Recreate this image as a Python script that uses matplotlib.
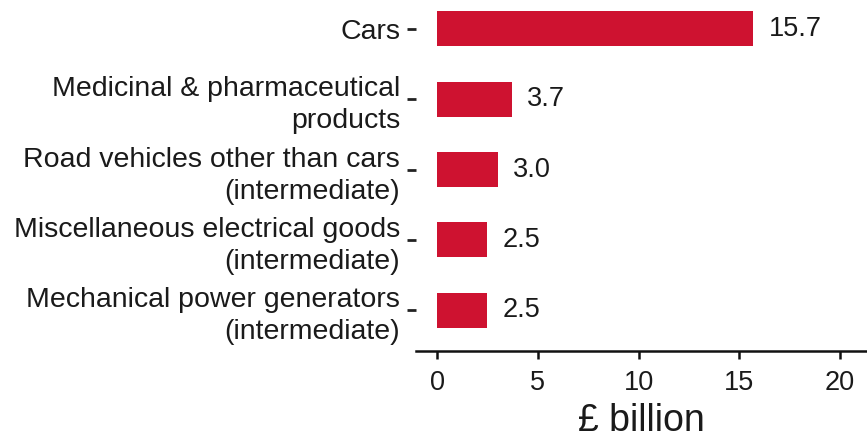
import numpy as np
import matplotlib.pyplot as plt

plt.rcParams['font.family'] = ['Liberation Sans', 'DejaVu Sans']

categories = ['Cars',
              'Medicinal & pharmaceutical\nproducts',
              'Road vehicles other than cars\n(intermediate)',
              'Miscellaneous electrical goods\n(intermediate)',
              'Mechanical power generators\n(intermediate)']
values = [15.7, 3.7, 3.0, 2.5, 2.5]
xticks = [0, 5, 10, 15, 20]

bar_col = '#CE1230'
txt_col = '#1a1a1a'

fig = plt.figure(figsize=(8.67, 4.41), dpi=100)
ax = fig.add_axes([0.48, 0.204, 0.52, 0.796])

y = np.arange(len(categories))
ax.barh(y, values, height=0.5, color=bar_col)

for yi, v in zip(y, values):
    ax.text(v + 0.75, yi, f'{v:.1f}', va='center', ha='left',
            fontsize=19.5, color=txt_col)

ax.set_yticks(y)
ax.set_yticklabels(categories, fontsize=20.5, color=txt_col, linespacing=1.3)
ax.set_xticks(xticks)
ax.set_xticklabels([str(t) for t in xticks], fontsize=19.5, color=txt_col)
ax.set_xlim(-1.04, 21.34)
ax.set_ylim(4.58, -0.41)

ax.tick_params(axis='y', length=6.5, width=2, color='#222222', pad=5)
ax.tick_params(axis='x', length=6, width=1.8, color='#111111', pad=8)

for s in ['top', 'right', 'left']:
    ax.spines[s].set_visible(False)
ax.spines['bottom'].set_linewidth(1.8)
ax.spines['bottom'].set_color('#111111')

ax.set_xlabel('£ billion', fontsize=27, color=txt_col, labelpad=5)

fig.savefig('out.png', dpi=100)
